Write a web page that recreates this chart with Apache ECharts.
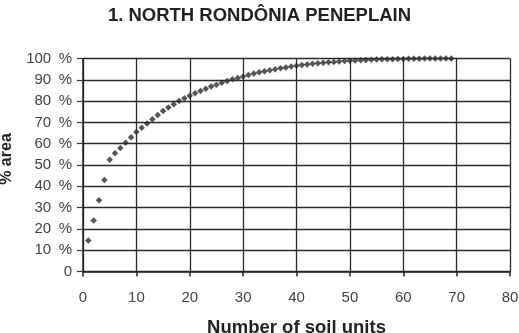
<!DOCTYPE html>
<html>
<head>
<meta charset="utf-8">
<script src="https://cdn.jsdelivr.net/npm/echarts@6/dist/echarts.min.js"></script>
<style>
    html, body { margin: 0; padding: 0; background: #fff; }
    #chart { width: 519px; height: 333px; }
</style>
</head>
<body>
<div id="chart"></div>
<script>
// number of soil units (1..69) and cumulative % area
var soilUnits = [
    1, 2, 3, 4, 5, 6, 7, 8, 9, 10,
    11, 12, 13, 14, 15, 16, 17, 18, 19, 20,
    21, 22, 23, 24, 25, 26, 27, 28, 29, 30,
    31, 32, 33, 34, 35, 36, 37, 38, 39, 40,
    41, 42, 43, 44, 45, 46, 47, 48, 49, 50,
    51, 52, 53, 54, 55, 56, 57, 58, 59, 60,
    61, 62, 63, 64, 65, 66, 67, 68, 69
]
var areaPct = [
    14.5, 24, 33.5, 43, 52.5, 55.5, 58, 60.5, 63, 65.5,
    67.5, 69.5, 71.5, 73.5, 75.3, 77, 78.5, 80, 81.3, 82.5,
    83.7, 84.8, 85.8, 86.8, 87.7, 88.6, 89.4, 90.2, 90.9, 91.6,
    92.3, 92.9, 93.5, 94, 94.5, 95, 95.4, 95.8, 96.2, 96.6,
    96.9, 97.2, 97.5, 97.8, 98, 98.2, 98.4, 98.6, 98.8, 99,
    99.1, 99.2, 99.3, 99.4, 99.5, 99.6, 99.65, 99.7, 99.75, 99.8,
    99.85, 99.9, 99.9, 99.95, 99.95, 100, 100, 100, 100
]
var xTicks = [0, 80, 10]   // min, max, step
var yTicks = [0, 100, 10]

var points = soilUnits.map(function (u, i) { return [u, areaPct[i]] })

var chart = echarts.init(document.getElementById('chart'))

var option = {
    animation: false,
    title: {
        text: '1. NORTH RONDÔNIA PENEPLAIN',
        left: 'center',
        top: 1,
        textStyle: {
            fontFamily: 'Liberation Sans',
            fontSize: 18.5,
            fontWeight: 'bold',
            color: '#222'
        }
    },
    grid: {
        left: 83,
        right: 9,
        top: 58.5,
        bottom: 61.5,
        outerBoundsMode: 'none'
    },
    xAxis: {
        type: 'value',
        min: xTicks[0],
        max: xTicks[1],
        interval: xTicks[2],
        name: 'Number of soil units',
        nameLocation: 'middle',
        nameGap: 47,
        nameTextStyle: {
            fontFamily: 'Liberation Sans',
            fontSize: 18.5,
            fontWeight: 'bold',
            color: '#222'
        },
        axisLine: { show: true, lineStyle: { color: '#222', width: 1.5 } },
        axisTick: { show: true, length: 5, lineStyle: { color: '#222', width: 1.5 } },
        axisLabel: {
            margin: 19,
            fontFamily: 'Liberation Sans',
            fontSize: 15,
            color: '#444'
        },
        splitLine: { show: true, lineStyle: { color: '#2a2a2a', width: 1.3 } }
    },
    yAxis: {
        type: 'value',
        min: yTicks[0],
        max: yTicks[1],
        interval: yTicks[2],
        name: '% area',
        nameLocation: 'middle',
        nameGap: 68,
        nameRotate: 90,
        nameTextStyle: {
            fontFamily: 'Liberation Sans',
            fontSize: 16,
            fontWeight: 'bold',
            color: '#222',
            padding: [0, 0, 0, 12]
        },
        axisLine: { show: true, lineStyle: { color: '#222', width: 1.5 } },
        axisTick: { show: true, length: 6, lineStyle: { color: '#333', width: 1.2 } },
        axisLabel: {
            margin: 11,
            fontFamily: 'Liberation Sans',
            fontSize: 15,
            color: '#444',
            formatter: function (v) { return v === 0 ? '0' : v + '\u2002%' }
        },
        splitLine: { show: true, lineStyle: { color: '#2a2a2a', width: 1.3 } }
    },
    series: [{
        type: 'scatter',
        data: points,
        symbol: 'diamond',
        symbolSize: 6.5,
        itemStyle: { color: '#2b2b2b' },
        silent: true
    }]
}

chart.setOption(option)
</script>
</body>
</html>
